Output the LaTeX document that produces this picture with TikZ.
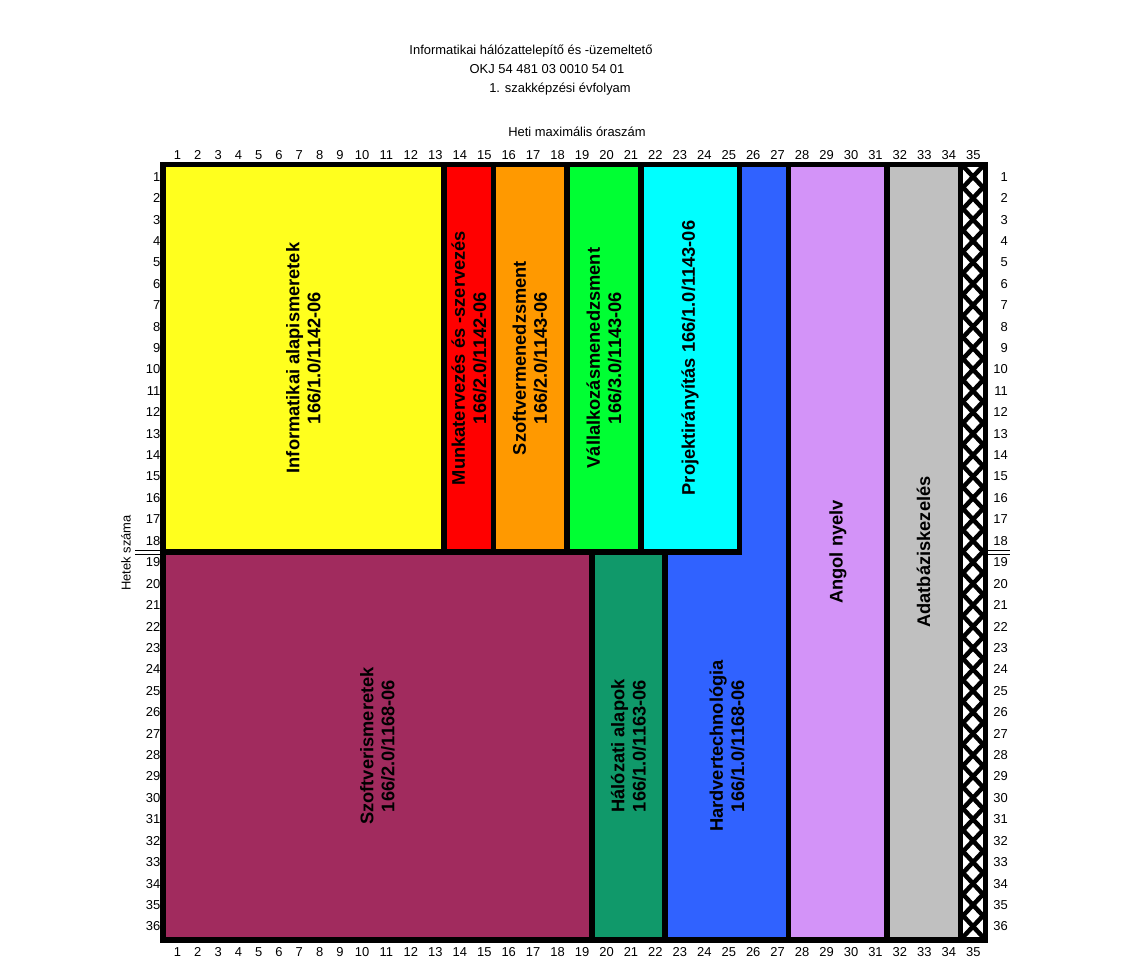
\documentclass[tikz,border=0pt]{standalone}
\usepackage{fontspec}
\setmainfont{Liberation Sans}
\usepackage{tikz}

\definecolor{sarga}{RGB}{255,255,30}
\definecolor{piros}{RGB}{255,0,0}
\definecolor{narancs}{RGB}{255,153,0}
\definecolor{zold}{RGB}{0,255,51}
\definecolor{cian}{RGB}{0,255,255}
\definecolor{kek}{RGB}{48,98,255}
\definecolor{lila}{RGB}{211,147,248}
\definecolor{szurke}{RGB}{192,192,192}
\definecolor{bordo}{RGB}{161,43,94}
\definecolor{turkiz}{RGB}{16,153,106}

\begin{document}
\begin{tikzpicture}[x=0.025cm, y=-0.025cm,
  kicsi/.style={font=\fontsize{9.2}{11}\selectfont, inner sep=0pt},
  blokk/.style={draw=black, line width=3.9pt},
  cimke/.style={rotate=90, align=center, inner sep=0pt, font=\fontsize{13}{15}\selectfont\bfseries},
  dupla/.style={line width=1.3pt}]
\useasboundingbox (0,0) rectangle (1142,979);

\node (cim1) at (531, 51) [kicsi] {Informatikai hálózattelepítő és -üzemeltető};
\node (cim2) at (547, 69) [kicsi] {OKJ 54 481 03 0010 54 01};
\node (cim3) at (560, 89) [kicsi] {1. szakképzési évfolyam};
\node (heti) at (577, 132) [kicsi] {Heti maximális óraszám};
\node (hetek) at (126, 553) [kicsi, rotate=90] {Hetek száma};

\foreach \n in {1,...,35} {
  \pgfmathsetmacro\xx{ifthenelse(\n<10, 177.5+(\n-1)*20.3, 362+(\n-10)*24.45)}
  \node (fent\n) at (\xx, 155) [kicsi] {\n};
  \node (lent\n) at (\xx, 952) [kicsi] {\n};
}
\foreach \n in {1,...,36} {
  \pgfmathsetmacro\yy{166+(\n-0.5)*21.42}
  \node (bal\n) at (160.5, \yy) [kicsi, anchor=east] {\n};
  \node (jobb\n) at (1008, \yy) [kicsi, anchor=east] {\n};
}

\filldraw[blokk, fill=sarga] (163,164.5) rectangle (444,552);
\filldraw[blokk, fill=piros] (444,164.5) rectangle (493.5,552);
\filldraw[blokk, fill=narancs] (493.5,164.5) rectangle (567,552);
\filldraw[blokk, fill=zold] (567,164.5) rectangle (641,552);
\filldraw[blokk, fill=cian] (641,164.5) rectangle (739.5,552);
\filldraw[blokk, fill=bordo] (163,552) rectangle (592,940);
\filldraw[blokk, fill=turkiz] (592,552) rectangle (665,940);
\filldraw[blokk, fill=kek] (739.5,164.5) -- (788.5,164.5) -- (788.5,940) -- (665,940) -- (665,552) -- (739.5,552) -- cycle;
\filldraw[blokk, fill=lila] (788.5,164.5) rectangle (887,940);
\filldraw[blokk, fill=szurke] (887,164.5) rectangle (960.5,940);
\filldraw[blokk, fill=white] (960.5,164.5) rectangle (985.5,940);

\begin{scope}
\clip (962.5,166.5) rectangle (983.5,938);
\foreach \n in {1,...,36} {
  \pgfmathsetmacro\yy{166+(\n-0.5)*21.42}
  \draw[line width=3.2pt] (953,\yy-21.42) -- (993,\yy+21.42);
  \draw[line width=3.2pt] (993,\yy-21.42) -- (953,\yy+21.42);
}
\end{scope}
\draw[blokk] (163,164.5) rectangle (985.5,940);

\draw[dupla] (135,550.5) -- (160,550.5);
\draw[dupla] (135,554.5) -- (160,554.5);
\draw[dupla] (988,550.5) -- (1010,550.5);
\draw[dupla] (988,554.5) -- (1010,554.5);

\node (infalap) at (303.5, 358) [cimke] {Informatikai alapismeretek\\166/1.0/1142-06};
\node (munka) at (469, 358) [cimke] {Munkatervezés és -szervezés\\166/2.0/1142-06};
\node (szoftmen) at (530, 358) [cimke] {Szoftvermenedzsment\\166/2.0/1143-06};
\node (vallalk) at (604, 358) [cimke] {Vállalkozásmenedzsment\\166/3.0/1143-06};
\node (projekt) at (690, 358) [cimke] {Projektirányítás 166/1.0/1143-06};
\node (szoftism) at (377.5, 746) [cimke] {Szoftverismeretek\\166/2.0/1168-06};
\node (halozat) at (628.5, 746) [cimke] {Hálózati alapok\\166/1.0/1163-06};
\node (hardver) at (727, 746) [cimke] {Hardvertechnológia\\166/1.0/1168-06};
\node (angol) at (838, 552) [cimke] {Angol nyelv};
\node (adatb) at (923.5, 552) [cimke] {Adatbáziskezelés};

\end{tikzpicture}
\end{document}
